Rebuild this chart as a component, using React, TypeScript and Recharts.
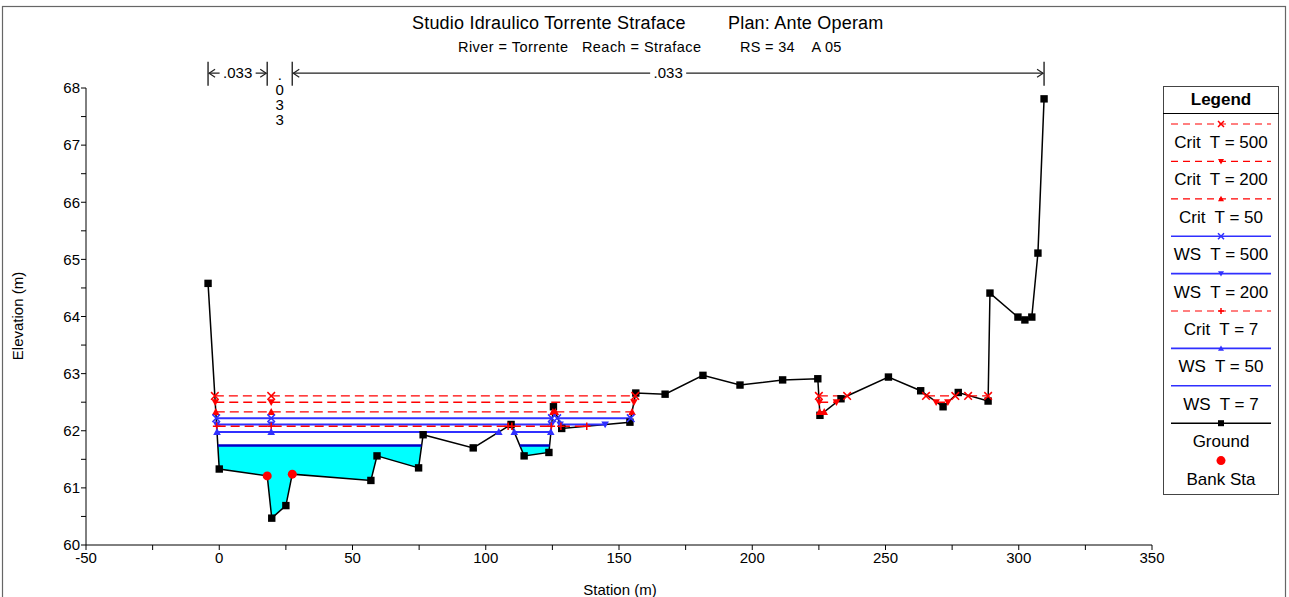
import React from 'react';
import { ComposedChart, Line, Area, XAxis, YAxis, ReferenceLine } from 'recharts';

const FONT = '"Liberation Sans", Arial, Helvetica, sans-serif';
const RED = '#ff0000';
const BLUE = '#3030ff';
const DARKBLUE = '#0000c8';

// ---- Ground profile ----
const groundStations = [-4.2, 0, 18.0, 19.7, 25.0, 27.4, 56.9, 59.2, 74.8, 76.5, 95.3, 109.5, 114.4, 123.7, 125.4, 128.5, 154.1, 156.3, 167.3, 181.5, 195.4, 211.4, 224.6, 225.4, 233.3, 251.1, 263.2, 271.6, 277.3, 288.5, 289.2, 299.7, 302.3, 304.9, 307.2, 309.5];
const groundElevations = [64.58, 61.33, 61.21, 60.47, 60.69, 61.24, 61.13, 61.56, 61.35, 61.93, 61.70, 62.11, 61.56, 61.62, 62.42, 62.04, 62.15, 62.66, 62.64, 62.97, 62.80, 62.89, 62.91, 62.27, 62.56, 62.94, 62.70, 62.42, 62.67, 62.52, 64.41, 63.99, 63.94, 63.99, 65.11, 67.81];
const bankStations = [18.0, 27.4];

// ---- Water surface levels (m) ----
const crit500Level = 62.61;
const crit200Level = 62.50;
const crit50Level = 62.33;
const ws500Level = 62.22;
const ws200Level = 62.11;
const crit7Level = 62.08;
const ws50Level = 61.98;
const ws7Level = 61.74;

// ---- Wetted stretches (stations of vertices / markers) ----
const crit500Segments = [[-1.65, 19.5, 156.1], [225.0, 235.6], [265.2, 276.2], [281.0, 288.5]];
const crit200Segments = [[-1.5, 19.5, 155.6], [225.1, 231.6], [269.0, 273.4]];
const crit50Segments = [[-1.3, 19.5, 125.2], [126.1, 154.9], [225.3, 227.0]];
const ws500Segments = [[-1.15, 19.5, 124.8], [126.8, 154.4]];
const ws200Segments = [[-1.0, 19.5, 124.7], [127.9, 144.8]];
const crit7Segments = [[-0.97, 19.5, 108.4], [109.8, 124.6], [128.2, 137.9]];
const ws50Segments = [[-0.84, 19.5, 104.9], [110.7, 124.4]];
const ws7Segments = [[-0.53, 75.9], [112.8, 123.95]];

// ---- Axes ----
const xTicks = [-50, -25, 0, 25, 50, 75, 100, 125, 150, 175, 200, 225, 250, 275, 300, 325, 350];
const yTicks = [60, 60.5, 61, 61.5, 62, 62.5, 63, 63.5, 64, 64.5, 65, 65.5, 66, 66.5, 67, 67.5, 68];

// ---- Manning n values ----
const nValues = ['.033', '.033', '.033'];
const nRowElev = 68.26;

type Kind = 'x' | 'down' | 'up' | 'plus' | 'none' | 'square' | 'circle';

const SERIES: { name: string; level: number; segs: number[][]; color: string; dashed: boolean; kind: Kind; width: number }[] = [
  { name: 'Crit  T = 500', level: crit500Level, segs: crit500Segments, color: RED, dashed: true, kind: 'x', width: 1.4 },
  { name: 'Crit  T = 200', level: crit200Level, segs: crit200Segments, color: RED, dashed: true, kind: 'down', width: 1.4 },
  { name: 'Crit  T = 50', level: crit50Level, segs: crit50Segments, color: RED, dashed: true, kind: 'up', width: 1.4 },
  { name: 'WS  T = 500', level: ws500Level, segs: ws500Segments, color: BLUE, dashed: false, kind: 'x', width: 2 },
  { name: 'WS  T = 200', level: ws200Level, segs: ws200Segments, color: BLUE, dashed: false, kind: 'down', width: 2 },
  { name: 'Crit  T = 7', level: crit7Level, segs: crit7Segments, color: RED, dashed: true, kind: 'plus', width: 1.4 },
  { name: 'WS  T = 50', level: ws50Level, segs: ws50Segments, color: BLUE, dashed: false, kind: 'up', width: 2 },
  { name: 'WS  T = 7', level: ws7Level, segs: ws7Segments, color: DARKBLUE, dashed: false, kind: 'none', width: 2.5 },
];

const LEGEND_ITEMS: { name: string; color: string; dashed: boolean; kind: Kind; line: boolean }[] = [
  ...SERIES.map((s) => ({ name: s.name, color: s.color === DARKBLUE ? BLUE : s.color, dashed: s.dashed, kind: s.kind, line: true })),
  { name: 'Ground', color: '#000', dashed: false, kind: 'square', line: true },
  { name: 'Bank Sta', color: RED, dashed: false, kind: 'circle', line: false },
];

function elevAt(st: number) {
  return groundElevations[groundStations.indexOf(st)];
}

const groundData = groundStations.map((x, i) => ({ x, y: groundElevations[i], bank: bankStations.includes(x) }));
const bankData = bankStations.map((x) => ({ x, y: elevAt(x) }));

function wsData(level: number, segs: number[][]) {
  const out: { x: number; y: number | null }[] = [];
  segs.forEach((s, i) => {
    if (i > 0) {
      const prev = segs[i - 1];
      out.push({ x: (prev[prev.length - 1] + s[0]) / 2, y: null });
    }
    s.forEach((x) => out.push({ x, y: level }));
  });
  return out;
}

function pondData(seg: number[], level: number) {
  const a = seg[0];
  const b = seg[seg.length - 1];
  const pts: { x: number; r: number[] }[] = [{ x: a, r: [level, level] }];
  groundStations.forEach((s, i) => {
    if (s > a && s < b) pts.push({ x: s, r: [groundElevations[i], level] });
  });
  pts.push({ x: b, r: [level, level] });
  return pts;
}

function Mark({ kind, cx, cy, color, s }: { kind: Kind; cx: number; cy: number; color: string; s: number }) {
  switch (kind) {
    case 'x':
      return <path d={`M${cx - s},${cy - s}L${cx + s},${cy + s}M${cx - s},${cy + s}L${cx + s},${cy - s}`} stroke={color} strokeWidth={1.5} fill="none" />;
    case 'down':
      return <path d={`M${cx - s},${cy - s * 0.8}L${cx + s},${cy - s * 0.8}L${cx},${cy + s}Z`} fill={color} />;
    case 'up':
      return <path d={`M${cx - s},${cy + s * 0.8}L${cx + s},${cy + s * 0.8}L${cx},${cy - s}Z`} fill={color} />;
    case 'plus':
      return <path d={`M${cx - s},${cy}L${cx + s},${cy}M${cx},${cy - s}L${cx},${cy + s}`} stroke={color} strokeWidth={1.5} fill="none" />;
    case 'square':
      return <rect x={cx - s} y={cy - s} width={2 * s} height={2 * s} fill={color} />;
    case 'circle':
      return <circle cx={cx} cy={cy} r={s} fill={color} />;
    default:
      return null;
  }
}

const makeDot = (kind: Kind, color: string, s: number) => (props: any) => {
  const { cx, cy, index, payload } = props;
  if (kind === 'none' || payload == null || payload.y == null || cx == null || cy == null || payload.bank) {
    return <g key={`e${index}`} />;
  }
  return (
    <g key={`m${index}`}>
      <Mark kind={kind} cx={cx} cy={cy} color={color} s={s} />
    </g>
  );
};

const NArrow = (props: any) => {
  const { x1, x2, y1, label } = props;
  const y = y1;
  const w = x2 - x1;
  const xc = (x1 + x2) / 2;
  const stroke = '#222';
  if (w < 45) {
    const chars = label.split('');
    return (
      <g>
        {chars.map((c: string, i: number) => (
          <text key={i} x={xc} y={y + 7 + i * 15} textAnchor="middle" fontFamily={FONT} fontSize={15} fill="#000">
            {c}
          </text>
        ))}
      </g>
    );
  }
  const half = 16;
  const a = 6;
  return (
    <g>
      <path d={`M${x1 + 1},${y}L${xc - half - 2},${y}M${xc + half + 2},${y}L${x2 - 1},${y}`} stroke={stroke} strokeWidth={1.2} fill="none" />
      <path d={`M${x1 + 1 + a},${y - 4}L${x1 + 1},${y}L${x1 + 1 + a},${y + 4}`} stroke={stroke} strokeWidth={1.2} fill="none" />
      <path d={`M${x2 - 1 - a},${y - 4}L${x2 - 1},${y}L${x2 - 1 - a},${y + 4}`} stroke={stroke} strokeWidth={1.2} fill="none" />
      <text x={xc} y={y + 5} textAnchor="middle" fontFamily={FONT} fontSize={15} fill="#000">
        {label}
      </text>
    </g>
  );
};

const nBreaks = [groundStations[0], bankStations[0], bankStations[1], groundStations[groundStations.length - 1]];

function LegendBox() {
  const W = 116;
  const H = 409;
  const step = 37.4;
  return (
    <svg width={W} height={H} style={{ position: 'absolute', left: 1163, top: 86 }}>
      <rect x={0.5} y={0.5} width={W - 1} height={H - 1} fill="#fff" stroke="#444" strokeWidth={1} />
      <text x={W / 2} y={19} textAnchor="middle" fontFamily={FONT} fontWeight="bold" fontSize={17} fill="#000">
        Legend
      </text>
      <line x1={0} x2={W} y1={27.5} y2={27.5} stroke="#000" strokeWidth={1} />
      {LEGEND_ITEMS.map((it, i) => {
        const ly = 38 + i * step;
        return (
          <g key={it.name}>
            {it.line && (
              <line x1={8} x2={108} y1={ly} y2={ly} stroke={it.color} strokeWidth={it.dashed ? 1.2 : 1.6} strokeDasharray={it.dashed ? '7 5' : undefined} />
            )}
            <Mark kind={it.kind} cx={58} cy={ly} color={it.color} s={it.kind === 'circle' ? 4.5 : 3} />
            <text x={W / 2} y={ly + 24} textAnchor="middle" fontFamily={FONT} fontSize={17} fill="#000" style={{ whiteSpace: 'pre' }}>
              {it.name}
            </text>
          </g>
        );
      })}
    </svg>
  );
}

export default function App() {
  return (
    <div style={{ position: 'absolute', left: 0, top: 0, width: 1289, height: 597, background: '#fff', overflow: 'hidden' }}>
      <svg width={1289} height={597} style={{ position: 'absolute', left: 0, top: 0 }}>
        <rect x={2.5} y={6.5} width={1283} height={600} fill="none" stroke="#666" strokeWidth={1.2} />
        <text x={412} y={29} fontFamily={FONT} fontSize={18} letterSpacing={0.2} fill="#000">Studio Idraulico Torrente Straface</text>
        <text x={728} y={29} fontFamily={FONT} fontSize={18} letterSpacing={0.2} fill="#000">Plan: Ante Operam</text>
        <text x={458} y={52} fontFamily={FONT} fontSize={14.5} letterSpacing={0.45} fill="#000" style={{ whiteSpace: 'pre' }}>River = Torrente   Reach = Straface</text>
        <text x={740} y={52} fontFamily={FONT} fontSize={14.5} letterSpacing={0.3} fill="#000" style={{ whiteSpace: 'pre' }}>RS = 34    A 05</text>
        <text x={620} y={595} textAnchor="middle" fontFamily={FONT} fontSize={15} fill="#000">Station (m)</text>
        <text x={0} y={0} textAnchor="middle" fontFamily={FONT} fontSize={15} fill="#000" transform="translate(23,316) rotate(-90)">Elevation (m)</text>
      </svg>
      <div style={{ position: 'absolute', left: 0, top: 0 }}>
        <ComposedChart width={1289} height={597} margin={{ top: 88, right: 137, bottom: 22, left: 46 }}>
          <XAxis
            dataKey="x"
            type="number"
            domain={[-50, 350]}
            ticks={xTicks}
            interval={0}
            allowDataOverflow
            height={30}
            tickFormatter={(v: number) => (v % 50 === 0 ? String(v) : '')}
            tick={{ fontFamily: FONT, fontSize: 15, fill: '#000' }}
            stroke="#000"
            tickLine={{ stroke: '#000' }}
            tickSize={5}
          />
          <YAxis
            type="number"
            domain={[60, 68]}
            ticks={yTicks}
            interval={0}
            allowDataOverflow
            width={40}
            tickFormatter={(v: number) => (Number.isInteger(v) ? String(v) : '')}
            tick={{ fontFamily: FONT, fontSize: 15, fill: '#000' }}
            stroke="#000"
            tickLine={{ stroke: '#000' }}
            tickSize={5}
            tickMargin={1}
          />
          {ws7Segments.map((seg, i) => (
            <Area
              key={`pond${i}`}
              data={pondData(seg, ws7Level)}
              dataKey="r"
              type="linear"
              stroke="none"
              fill="#00ffff"
              fillOpacity={1}
              dot={false}
              activeDot={false}
              isAnimationActive={false}
            />
          ))}
          <Line
            data={groundData}
            dataKey="y"
            name="Ground"
            type="linear"
            stroke="#000"
            strokeWidth={1.5}
            dot={makeDot('square', '#000', 3.7)}
            activeDot={false}
            isAnimationActive={false}
          />
          {SERIES.map((s) => (
            <Line
              key={s.name}
              data={wsData(s.level, s.segs)}
              dataKey="y"
              name={s.name}
              type="linear"
              stroke={s.color}
              strokeWidth={s.width}
              strokeDasharray={s.dashed ? '9 5' : undefined}
              connectNulls={false}
              dot={makeDot(s.kind, s.color, 3.8)}
              activeDot={false}
              isAnimationActive={false}
            />
          ))}
          <Line
            data={bankData}
            dataKey="y"
            name="Bank Sta"
            stroke="none"
            dot={makeDot('circle', RED, 4.5)}
            activeDot={false}
            isAnimationActive={false}
          />
          {nBreaks.map((x, i) => (
            <ReferenceLine
              key={`nb${i}`}
              segment={[{ x, y: 68.04 }, { x, y: 68.46 }]}
              stroke="#333"
              strokeWidth={1.5}
              ifOverflow="visible"
            />
          ))}
          {nValues.map((lab, i) => (
            <ReferenceLine
              key={`nv${i}`}
              segment={[{ x: nBreaks[i], y: nRowElev }, { x: nBreaks[i + 1], y: nRowElev }]}
              ifOverflow="visible"
              shape={(p: any) => <NArrow {...p} label={lab} />}
            />
          ))}
        </ComposedChart>
      </div>
      <LegendBox />
    </div>
  );
}
